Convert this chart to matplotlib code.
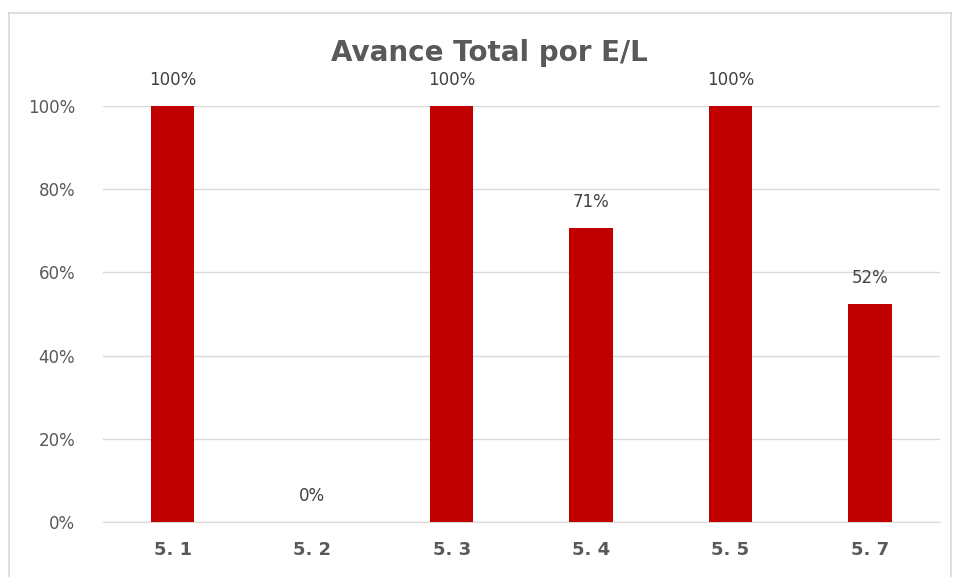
import matplotlib
matplotlib.use("Agg")
from matplotlib import pyplot as plt
from matplotlib.lines import Line2D
from matplotlib.ticker import PercentFormatter

#---------------------------------Data--------------------------------
categories = ["5. 1", "5. 2", "5. 3", "5. 4", "5. 5", "5. 7"]
avance = [1.00, 0.00, 1.00, 0.707, 1.00, 0.524]
labels = ["100%", "0%", "100%", "71%", "100%", "52%"]

#---------------------------------Plot--------------------------------
fig = plt.figure(figsize=(9.54, 5.77), dpi=100)
ax = fig.add_axes([0.108, 0.0953, 0.877, 0.721])

x = range(len(categories))
bars = ax.bar(x, avance, width=0.31, color="#C00000", zorder=3)

# value labels above each bar
for b, lab in zip(bars, labels):
    ax.annotate(lab, (b.get_x() + b.get_width() / 2, b.get_height()),
                xytext=(0, 12), textcoords="offset points",
                ha="center", va="bottom", fontsize=12, color="#404040")

ax.set_xlim(-0.5, len(categories) - 0.5)
ax.set_ylim(0, 1)
ax.set_yticks([0, 0.2, 0.4, 0.6, 0.8, 1.0])
ax.yaxis.set_major_formatter(PercentFormatter(1.0, decimals=0))
ax.set_xticks(list(x))
ax.set_xticklabels(categories, fontsize=13, fontweight="bold", color="#595959")
ax.tick_params(axis="y", labelsize=12, labelcolor="#595959", length=0, pad=20)
ax.tick_params(axis="x", length=0, pad=14)
ax.grid(axis="y", color="#D9D9D9", linewidth=1, zorder=0)
for s in ["top", "right", "left"]:
    ax.spines[s].set_visible(False)
ax.spines["bottom"].set_color("#D9D9D9")

fig.text(0.513, 0.908, "Avance Total por E/L", ha="center", va="center",
         fontsize=20, fontweight="bold", color="#595959")

# chart border
fig.add_artist(Line2D([0.009, 0.009], [0, 0.978], color="#D9D9D9", lw=1.2, transform=fig.transFigure))
fig.add_artist(Line2D([0.009, 0.997], [0.978, 0.978], color="#D9D9D9", lw=1.2, transform=fig.transFigure))
fig.add_artist(Line2D([0.997, 0.997], [0, 0.978], color="#D9D9D9", lw=1.2, transform=fig.transFigure))

fig.savefig("out.png", dpi=100)
